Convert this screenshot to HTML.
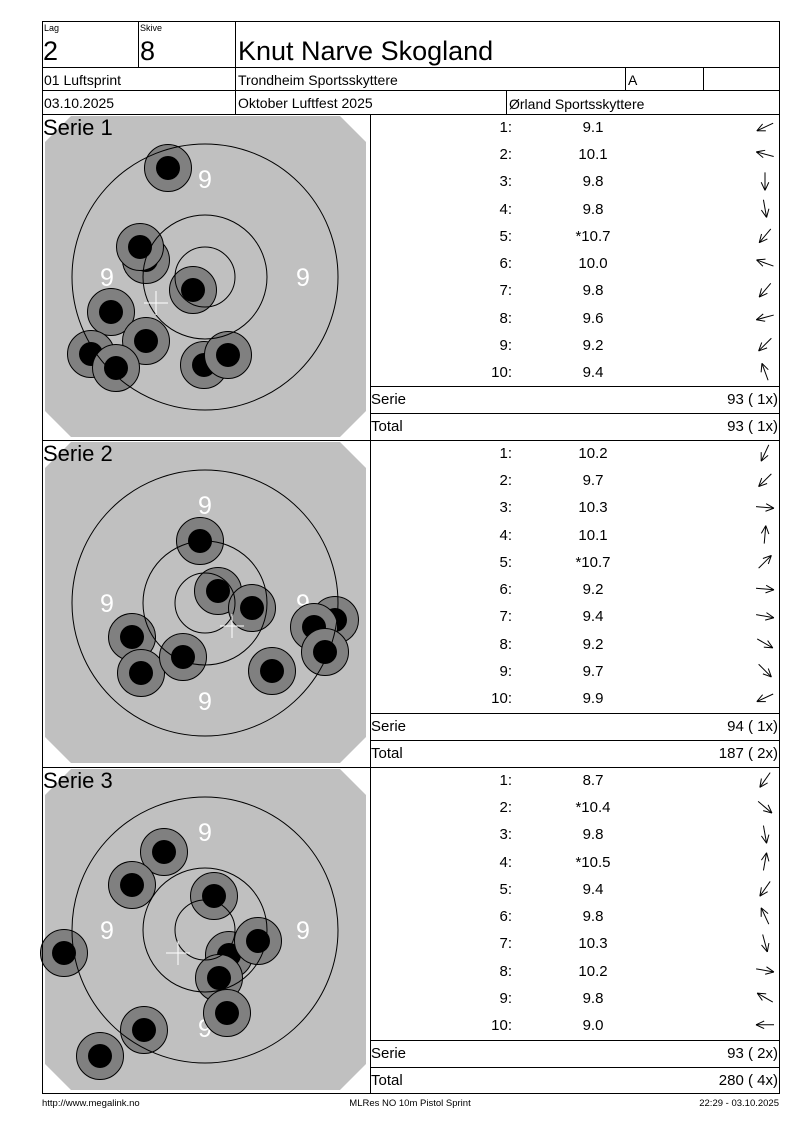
<!DOCTYPE html>
<html><head><meta charset="utf-8">
<style>
html,body{margin:0;padding:0;background:#fff;}
svg{display:block;font-family:"Liberation Sans",Arial,sans-serif;}
</style></head>
<body>
<svg id="s" width="800" height="1130" viewBox="0 0 800 1130" xmlns="http://www.w3.org/2000/svg">
<rect width="800" height="1130" fill="#fff"/>
<g id="targets"></g>
<g id="lines" stroke="#000" stroke-width="1" fill="none" shape-rendering="crispEdges">
  <rect x="42.5" y="21.5" width="737" height="1072"/>
  <line x1="42" y1="67.5" x2="780" y2="67.5"/>
  <line x1="42" y1="90.5" x2="780" y2="90.5"/>
  <line x1="42" y1="114.5" x2="780" y2="114.5"/>
  <line x1="138.5" y1="21" x2="138.5" y2="67"/>
  <line x1="235.5" y1="21" x2="235.5" y2="114"/>
  <line x1="625.5" y1="67" x2="625.5" y2="90"/>
  <line x1="703.5" y1="67" x2="703.5" y2="90"/>
  <line x1="506.5" y1="90" x2="506.5" y2="114"/>
  <line x1="370.5" y1="114" x2="370.5" y2="1094"/>
  <line x1="42" y1="440.5" x2="780" y2="440.5"/>
  <line x1="42" y1="767.5" x2="780" y2="767.5"/>
  <line x1="370" y1="386.5" x2="780" y2="386.5"/>
  <line x1="370" y1="413.5" x2="780" y2="413.5"/>
  <line x1="370" y1="713.5" x2="780" y2="713.5"/>
  <line x1="370" y1="740.5" x2="780" y2="740.5"/>
  <line x1="370" y1="1040.5" x2="780" y2="1040.5"/>
  <line x1="370" y1="1067.5" x2="780" y2="1067.5"/>
</g>
<g id="arrows" stroke="#000" stroke-width="1" fill="none"></g>
<g fill="#000">
  <text x="44" y="31" font-size="9">Lag</text>
  <text x="140" y="31" font-size="9">Skive</text>
  <text x="43" y="60" font-size="27">2</text>
  <text x="140" y="60" font-size="27">8</text>
  <text x="238" y="60" font-size="27">Knut Narve Skogland</text>
  <text x="44" y="85" font-size="14">01 Luftsprint</text>
  <text x="238" y="85" font-size="14">Trondheim Sportsskyttere</text>
  <text x="628" y="85" font-size="14">A</text>
  <text x="44" y="108" font-size="14">03.10.2025</text>
  <text x="238" y="108" font-size="14">Oktober Luftfest 2025</text>
  <text x="509" y="109" font-size="14">Ørland Sportsskyttere</text>
  <text x="43" y="135" font-size="22">Serie 1</text>
  <text x="43" y="461" font-size="22">Serie 2</text>
  <text x="43" y="788" font-size="22">Serie 3</text>
</g>
<g font-size="15" fill="#000">
  <g text-anchor="end">
    <text x="512" y="132">1:</text><text x="512" y="159">2:</text><text x="512" y="186">3:</text><text x="512" y="214">4:</text><text x="512" y="241">5:</text><text x="512" y="268">6:</text><text x="512" y="295">7:</text><text x="512" y="323">8:</text><text x="512" y="350">9:</text><text x="512" y="377">10:</text>
    <text x="512" y="458">1:</text><text x="512" y="485">2:</text><text x="512" y="512">3:</text><text x="512" y="540">4:</text><text x="512" y="567">5:</text><text x="512" y="594">6:</text><text x="512" y="621">7:</text><text x="512" y="649">8:</text><text x="512" y="676">9:</text><text x="512" y="703">10:</text>
    <text x="512" y="785">1:</text><text x="512" y="812">2:</text><text x="512" y="839">3:</text><text x="512" y="867">4:</text><text x="512" y="894">5:</text><text x="512" y="921">6:</text><text x="512" y="948">7:</text><text x="512" y="976">8:</text><text x="512" y="1003">9:</text><text x="512" y="1030">10:</text>
    <text x="778" y="404">93 ( 1x)</text><text x="778" y="431">93 ( 1x)</text>
    <text x="778" y="731">94 ( 1x)</text><text x="778" y="758">187 ( 2x)</text>
    <text x="778" y="1058">93 ( 2x)</text><text x="778" y="1085">280 ( 4x)</text>
  </g>
  <g text-anchor="middle">
    <text x="593" y="132">9.1</text><text x="593" y="159">10.1</text><text x="593" y="186">9.8</text><text x="593" y="214">9.8</text><text x="593" y="241">*10.7</text><text x="593" y="268">10.0</text><text x="593" y="295">9.8</text><text x="593" y="323">9.6</text><text x="593" y="350">9.2</text><text x="593" y="377">9.4</text>
    <text x="593" y="458">10.2</text><text x="593" y="485">9.7</text><text x="593" y="512">10.3</text><text x="593" y="540">10.1</text><text x="593" y="567">*10.7</text><text x="593" y="594">9.2</text><text x="593" y="621">9.4</text><text x="593" y="649">9.2</text><text x="593" y="676">9.7</text><text x="593" y="703">9.9</text>
    <text x="593" y="785">8.7</text><text x="593" y="812">*10.4</text><text x="593" y="839">9.8</text><text x="593" y="867">*10.5</text><text x="593" y="894">9.4</text><text x="593" y="921">9.8</text><text x="593" y="948">10.3</text><text x="593" y="976">10.2</text><text x="593" y="1003">9.8</text><text x="593" y="1030">9.0</text>
  </g>
  <text x="371" y="404">Serie</text><text x="371" y="431">Total</text>
  <text x="371" y="731">Serie</text><text x="371" y="758">Total</text>
  <text x="371" y="1058">Serie</text><text x="371" y="1085">Total</text>
</g>
<g font-size="9.5" fill="#000">
  <text x="42" y="1106">http://www.megalink.no</text>
  <text x="410" y="1106" text-anchor="middle">MLRes NO 10m Pistol Sprint</text>
  <text x="779" y="1106" text-anchor="end">22:29 - 03.10.2025</text>
</g>
</svg>
<script>
var NS="http://www.w3.org/2000/svg";
function el(p,n,a){var e=document.createElementNS(NS,n);for(var k in a)e.setAttribute(k,a[k]);p.appendChild(e);return e;}
var T=document.getElementById("targets");
var series=[
 {top:114,shots:[[168,168],[146,260],[140,247],[193,290],[111,312],[146,341],[91,354],[116,368],[204,365],[228,355]],cross:[156,303]},
 {top:440,shots:[[200,541],[218,591],[252,608],[132,637],[141,673],[183,657],[272,671],[335,620],[314,627],[325,652]],cross:[232,626]},
 {top:767,shots:[[164,852],[132,885],[214,896],[64,953],[229,955],[258,941],[219,978],[227,1013],[144,1030],[100,1056]],cross:[178,953]}
];
series.forEach(function(s){
  var t=s.top+2,b=s.top+323,l=45,r=366,c=26;
  var g=el(T,"g",{});
  el(g,"polygon",{points:[l+c,t,r-c,t,r,t+c,r,b-c,r-c,b,l+c,b,l,b-c,l,t+c].join(","),fill:"#c0c0c0"});
  var cx=205,cy=s.top+163;
  var lab=[[cx,cy-98],[cx-98,cy],[cx+98,cy],[cx,cy+98]];
  lab.forEach(function(p){var x=el(g,"text",{x:p[0],y:p[1]+9,"font-size":"25","text-anchor":"middle",fill:"#fff"});x.textContent="9";});
  s.shots.forEach(function(p){
    el(g,"circle",{cx:p[0],cy:p[1],r:23.5,fill:"#808080",stroke:"#000","stroke-width":"1"});
    el(g,"circle",{cx:p[0],cy:p[1],r:12,fill:"#000"});
  });
  [133,62,30].forEach(function(rr){el(g,"circle",{cx:cx,cy:cy,r:rr,fill:"none",stroke:"#000","stroke-width":"1"});});
  var x=s.cross[0],y=s.cross[1];
  el(g,"line",{x1:x-12,y1:y,x2:x+12,y2:y,stroke:"#fff","stroke-width":"1"});
  el(g,"line",{x1:x,y1:y-12,x2:x,y2:y+12,stroke:"#fff","stroke-width":"1"});
});
var A=document.getElementById("arrows");
var ang=[[155,195,90,80,130,200,130,165,135,250],[115,135,5,275,315,5,10,30,45,155],[125,40,80,280,125,245,75,10,210,180]];
var tops=[127,453,780];
ang.forEach(function(a,si){
  a.forEach(function(d,i){
    var cy=tops[si]+i*27.2,cx=765,L=9,rad=d*Math.PI/180;
    var dx=Math.cos(rad),dy=Math.sin(rad);
    var hx=cx+dx*L,hy=cy+dy*L,tx=cx-dx*L,ty=cy-dy*L;
    el(A,"line",{x1:tx,y1:ty,x2:hx,y2:hy});
    [25,-25].forEach(function(o){var r2=(d+180+o)*Math.PI/180;el(A,"line",{x1:hx,y1:hy,x2:hx+Math.cos(r2)*9,y2:hy+Math.sin(r2)*9});});
  });
});
</script>
</body></html>
